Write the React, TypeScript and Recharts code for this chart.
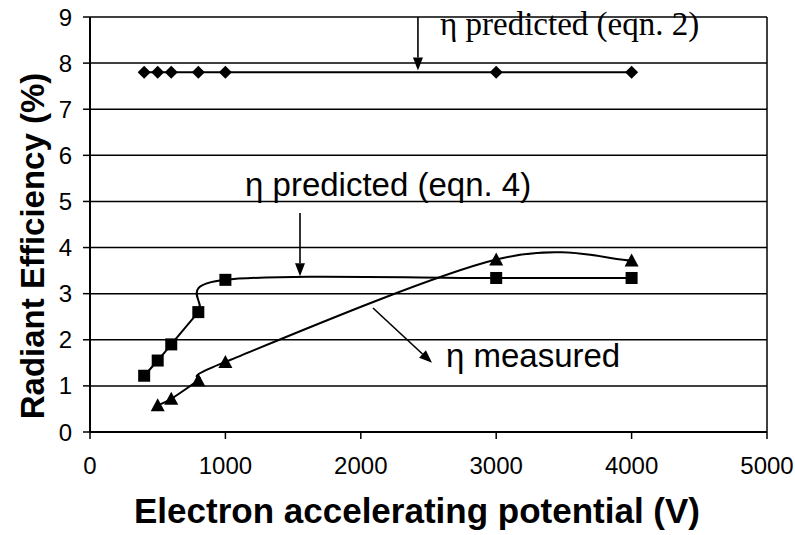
import {
  CartesianGrid,
  Line,
  LineChart,
  ReferenceDot,
  ReferenceLine,
  XAxis,
  YAxis,
} from "recharts";

// electron accelerating potential (V)
const voltsPredicted = [400, 500, 600, 800, 1000, 3000, 4000];
const voltsMeasured = [500, 600, 800, 1000, 3000, 4000];

// radiant efficiency (%)
const eqn2Values = [7.8, 7.8, 7.8, 7.8, 7.8, 7.8, 7.8];
const eqn4Values = [1.22, 1.55, 1.9, 2.6, 3.3, 3.34, 3.34];
const measuredValues = [0.58, 0.72, 1.12, 1.52, 3.74, 3.72];

const xTicks = [0, 1000, 2000, 3000, 4000, 5000];
const yTicks = [0, 1, 2, 3, 4, 5, 6, 7, 8, 9];

const eqn2Data = voltsPredicted.map((v, i) => ({ v, eff: eqn2Values[i] }));
const eqn4Data = voltsPredicted.map((v, i) => ({ v, eff: eqn4Values[i] }));
const measuredData = voltsMeasured.map((v, i) => ({ v, eff: measuredValues[i] }));

// callouts, in data units
const notes = [
  { text: "η predicted (eqn. 2)", v: 2585, eff: 8.61, serif: true },
  { text: "η predicted (eqn. 4)", v: 1145, eff: 5.12, serif: false },
  { text: "η measured", v: 2629, eff: 1.41, serif: false },
];
const arrows = [
  { from: [2422, 9], to: [2422, 7.84] },
  { from: [1551, 4.75], to: [1551, 3.38] },
  { from: [2090, 2.69], to: [2526, 1.5] },
];

const SANS = "'Liberation Sans', Arial, sans-serif";
const SERIF = "'Liberation Serif', 'Times New Roman', serif";

// Excel-style smoothed line (Catmull-Rom through the points)
const excelSmooth = (context: any) => {
  let pts: number[][] = [];
  return {
    areaStart() {},
    areaEnd() {},
    lineStart() {
      pts = [];
    },
    point(x: number, y: number) {
      pts.push([+x, +y]);
    },
    lineEnd() {
      const n = pts.length;
      if (!n) return;
      context.moveTo(pts[0][0], pts[0][1]);
      for (let i = 0; i < n - 1; i++) {
        const p0 = pts[Math.max(i - 1, 0)];
        const p1 = pts[i];
        const p2 = pts[i + 1];
        const p3 = pts[Math.min(i + 2, n - 1)];
        context.bezierCurveTo(
          p1[0] + (p2[0] - p0[0]) / 6,
          p1[1] + (p2[1] - p0[1]) / 6,
          p2[0] - (p3[0] - p1[0]) / 6,
          p2[1] - (p3[1] - p1[1]) / 6,
          p2[0],
          p2[1]
        );
      }
    },
  };
};

const Diamond = ({ cx, cy }: any) => (
  <polygon
    points={`${cx},${cy - 6.5} ${cx + 6.5},${cy} ${cx},${cy + 6.5} ${cx - 6.5},${cy}`}
    fill="#000"
  />
);
const Square = ({ cx, cy }: any) => (
  <rect x={cx - 6} y={cy - 6} width={12} height={12} fill="#000" />
);
const Triangle = ({ cx, cy }: any) => (
  <polygon
    points={`${cx},${cy - 7} ${cx + 7},${cy + 6} ${cx - 7},${cy + 6}`}
    fill="#000"
  />
);

const Arrow = ({ x1, y1, x2, y2 }: any) => {
  const a = Math.atan2(y2 - y1, x2 - x1);
  const len = 13;
  const w = 5;
  const bx = x2 - len * Math.cos(a);
  const by = y2 - len * Math.sin(a);
  const px = -Math.sin(a) * w;
  const py = Math.cos(a) * w;
  return (
    <g>
      <line x1={x1} y1={y1} x2={bx} y2={by} stroke="#000" strokeWidth={1.6} />
      <polygon
        points={`${x2},${y2} ${bx + px},${by + py} ${bx - px},${by - py}`}
        fill="#000"
      />
    </g>
  );
};

export default function App() {
  return (
    <div style={{ position: "absolute", left: 0, top: 0, background: "#fff" }}>
      <LineChart
        width={795}
        height={535}
        margin={{ top: 17, right: 28, bottom: 0, left: 0 }}
        style={{ fontFamily: SANS }}
      >
        <CartesianGrid vertical={false} stroke="#000" strokeWidth={1.5} />
        <XAxis
          type="number"
          dataKey="v"
          domain={[0, 5000]}
          ticks={xTicks}
          height={103}
          tickSize={7}
          tickMargin={18}
          axisLine={{ stroke: "#000", strokeWidth: 2 }}
          tickLine={{ stroke: "#000", strokeWidth: 1.5 }}
          tick={{ fill: "#000", fontSize: 24, fontFamily: SANS }}
        />
        <YAxis
          type="number"
          domain={[0, 9]}
          ticks={yTicks}
          width={90}
          tickSize={7}
          tickMargin={11}
          axisLine={{ stroke: "#000", strokeWidth: 2 }}
          tickLine={{ stroke: "#000", strokeWidth: 1.5 }}
          tick={{ fill: "#000", fontSize: 24, fontFamily: SANS }}
        />
        <ReferenceLine x={5000} stroke="#000" strokeWidth={1.5} />

        <Line
          data={eqn2Data}
          dataKey="eff"
          type={excelSmooth as any}
          stroke="#000"
          strokeWidth={2}
          dot={(p: any) => <Diamond key={p.key} {...p} />}
          isAnimationActive={false}
        />
        <Line
          data={eqn4Data}
          dataKey="eff"
          type={excelSmooth as any}
          stroke="#000"
          strokeWidth={2}
          dot={(p: any) => <Square key={p.key} {...p} />}
          isAnimationActive={false}
        />
        <Line
          data={measuredData}
          dataKey="eff"
          type={excelSmooth as any}
          stroke="#000"
          strokeWidth={2}
          dot={(p: any) => <Triangle key={p.key} {...p} />}
          isAnimationActive={false}
        />

        {arrows.map((a, i) => (
          <ReferenceLine
            key={`arrow-${i}`}
            segment={[
              { x: a.from[0], y: a.from[1] },
              { x: a.to[0], y: a.to[1] },
            ]}
            shape={(p: any) => <Arrow {...p} />}
          />
        ))}
        {notes.map((n, i) => (
          <ReferenceDot
            key={`note-${i}`}
            x={n.v}
            y={n.eff}
            r={0}
            shape={(p: any) => (
              <text
                x={p.cx}
                y={p.cy}
                fill="#000"
                fontSize={33}
                fontFamily={n.serif ? SERIF : SANS}
              >
                {n.text}
              </text>
            )}
          />
        ))}

        <text
          x={44}
          y={246}
          transform="rotate(-90, 44, 246)"
          textAnchor="middle"
          fontSize={33}
          fontWeight="bold"
          fontFamily={SANS}
          fill="#000"
        >
          Radiant Efficiency (%)
        </text>
        <text
          x={417}
          y={523}
          textAnchor="middle"
          fontSize={35}
          fontWeight="bold"
          fontFamily={SANS}
          fill="#000"
        >
          Electron accelerating potential (V)
        </text>
      </LineChart>
    </div>
  );
}
